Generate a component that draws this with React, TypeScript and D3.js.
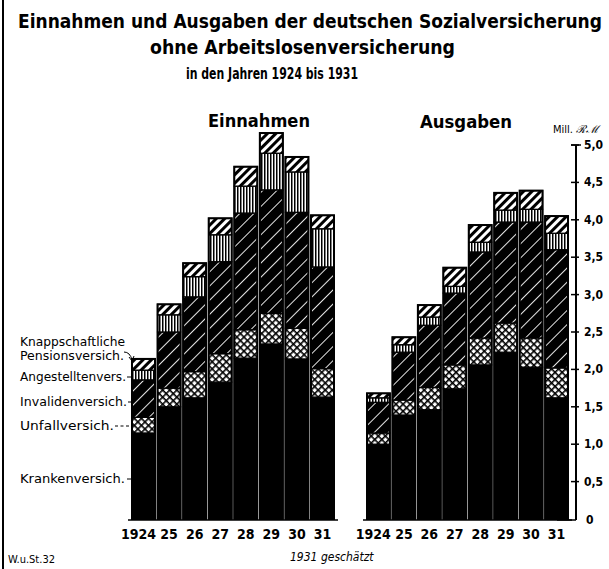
import React from "react";
import * as d3 from "d3";

const years = ["1924", "25", "26", "27", "28", "29", "30", "31"];
const seriesNames = ["Krankenversich.", "Unfallversich.", "Invalidenversich.", "Angestelltenvers.", "Knappschaftliche Pensionsversich."];

// Einnahmen (Mill. RM)
const kranE = [1.15, 1.5, 1.62, 1.83, 2.15, 2.34, 2.14, 1.63];
const unfallE = [0.21, 0.25, 0.35, 0.38, 0.38, 0.41, 0.41, 0.38];
const invalE = [0.5, 0.75, 1.0, 1.23, 1.56, 1.65, 1.55, 1.36];
const angestE = [0.13, 0.23, 0.27, 0.36, 0.36, 0.49, 0.54, 0.51];
const knappE = [0.15, 0.14, 0.18, 0.22, 0.26, 0.27, 0.2, 0.18];

// Ausgaben (Mill. RM)
const kranA = [1.0, 1.39, 1.46, 1.74, 2.06, 2.23, 2.03, 1.62];
const unfallA = [0.15, 0.2, 0.3, 0.32, 0.36, 0.39, 0.39, 0.4];
const invalA = [0.41, 0.64, 0.83, 0.96, 1.15, 1.35, 1.55, 1.58];
const angestA = [0.06, 0.1, 0.11, 0.09, 0.13, 0.16, 0.17, 0.22];
const knappA = [0.06, 0.1, 0.16, 0.25, 0.23, 0.23, 0.25, 0.23];

const yTicks = [0.5, 1.0, 1.5, 2.0, 2.5, 3.0, 3.5, 4.0, 4.5, 5.0];

const FONT = "'DejaVu Sans Condensed', 'Liberation Sans Narrow', 'DejaVu Sans', sans-serif";
const fills = ["#000", "url(#pCross)", "url(#pInval)", "url(#pVert)", "url(#pKnapp)"];

const y = d3.scaleLinear().domain([0, 5]).range([519, 145]);

function Group({ series, x0, x1 }: { series: number[][]; x0: number; x1: number }) {
  const x = d3.scaleBand<string>().domain(years).range([x0, x1]).paddingInner(0.1).paddingOuter(0);
  const table = years.map((yr, i) => {
    const o: any = { year: yr };
    series.forEach((s, k) => (o["s" + k] = s[i]));
    return o;
  });
  const stack = d3.stack<any>().keys(series.map((_, k) => "s" + k))(table);
  return (
    <g>
      {stack.map((layer, k) =>
        layer.map((d, i) => (
          <rect
            key={k + "-" + i}
            x={x(years[i])!}
            width={x.bandwidth()}
            y={y(d[1])}
            height={y(d[0]) - y(d[1])}
            fill={fills[k]}
            stroke="#000"
            strokeWidth={1.3}
          />
        ))
      )}
      {years.map((yr, i) => {
        const top = stack[stack.length - 1][i][1];
        return (
          <rect key={"o" + i} x={x(yr)!} width={x.bandwidth()} y={y(top)} height={y(0) - y(top)} fill="none" stroke="#000" strokeWidth={2} />
        );
      })}
      <line x1={x0 - 4} x2={x1 + 4} y1={y(0) + 1} y2={y(0) + 1} stroke="#000" strokeWidth={1.5} />
      {years.map((yr, i) => (
        <text
          key={"t" + i}
          x={i === 0 ? x(yr)! + x.bandwidth() + 1 : x(yr)! + x.bandwidth() / 2}
          y={539}
          textAnchor={i === 0 ? "end" : "middle"}
          fontFamily={FONT}
          fontWeight="bold"
          fontSize={14}
        >
          {yr}
        </text>
      ))}
    </g>
  );
}

export default function App() {
  const labelStyle = { fontFamily: FONT, fontSize: 13 } as const;
  return (
    <svg width={609} height={569} style={{ display: "block", position: "absolute", left: 0, top: 0, background: "#fff" }}>
      <defs>
        <pattern id="pKnapp" patternUnits="userSpaceOnUse" width={6} height={6} patternTransform="rotate(45)">
          <rect width={6} height={6} fill="#fff" />
          <rect width={3} height={6} fill="#000" />
        </pattern>
        <pattern id="pVert" patternUnits="userSpaceOnUse" width={3} height={3}>
          <rect width={3} height={3} fill="#fff" />
          <rect width={1.5} height={3} fill="#000" />
        </pattern>
        <pattern id="pInval" patternUnits="userSpaceOnUse" width={10} height={10} patternTransform="rotate(45)">
          <rect width={10} height={10} fill="#000" />
          <rect width={0.9} height={10} fill="#fff" />
        </pattern>
        <pattern id="pCross" patternUnits="userSpaceOnUse" width={5} height={5} patternTransform="rotate(45)">
          <rect width={5} height={5} fill="#fff" />
          <rect width={1.6} height={5} fill="#000" />
          <rect width={5} height={1.6} fill="#000" />
        </pattern>
      </defs>

      {/* left border */}
      <line x1={3} x2={3} y1={0} y2={569} stroke="#000" strokeWidth={2} />

      {/* titles */}
      <text x={18} y={28} textLength={584} lengthAdjust="spacingAndGlyphs" fontFamily={FONT} fontWeight="bold" fontSize={19}>
        Einnahmen und Ausgaben der deutschen Sozialversicherung
      </text>
      <text x={150} y={54} textLength={305} lengthAdjust="spacingAndGlyphs" fontFamily={FONT} fontWeight="bold" fontSize={20}>
        ohne Arbeitslosenversicherung
      </text>
      <text x={186} y={79} textLength={172} lengthAdjust="spacingAndGlyphs" fontFamily={FONT} fontWeight="bold" fontSize={15}>
        in den Jahren 1924 bis 1931
      </text>

      <text x={208} y={127} textLength={102} lengthAdjust="spacingAndGlyphs" fontFamily={FONT} fontWeight="bold" fontSize={18}>
        Einnahmen
      </text>
      <text x={420} y={128} textLength={92} lengthAdjust="spacingAndGlyphs" fontFamily={FONT} fontWeight="bold" fontSize={18}>
        Ausgaben
      </text>
      <text x={553} y={133} fontFamily={FONT} fontSize={11}>
        Mill. <tspan fontStyle="italic" fontFamily="'DejaVu Serif', serif">ℛℳ</tspan>
      </text>

      <Group series={[kranE, unfallE, invalE, angestE, knappE]} x0={132} x1={334} />
      <Group series={[kranA, unfallA, invalA, angestA, knappA]} x0={367} x1={568} />

      {/* y axis */}
      <line x1={576} x2={576} y1={y(5)} y2={y(0) + 1} stroke="#000" strokeWidth={2} />
      <line x1={571} x2={581} y1={y(5)} y2={y(5)} stroke="#000" strokeWidth={1.5} />
      <line x1={557} x2={576} y1={y(0) + 1} y2={y(0) + 1} stroke="#000" strokeWidth={1.5} />
      {yTicks.map((t) => (
        <g key={t}>
          <line x1={571} x2={579} y1={y(t)} y2={y(t)} stroke="#000" strokeWidth={1.5} />
          <text x={584} y={y(t) + 4} fontFamily={FONT} fontWeight="bold" fontSize={12}>
            {d3.format(".1f")(t).replace(".", ",")}
          </text>
        </g>
      ))}
      <text x={586} y={y(0) + 5} fontFamily={FONT} fontWeight="bold" fontSize={12}>0</text>

      {/* series labels */}
      <text x={20} y={346} textLength={105} lengthAdjust="spacingAndGlyphs" {...labelStyle}>Knappschaftliche</text>
      <text x={20} y={360} textLength={104} lengthAdjust="spacingAndGlyphs" {...labelStyle}>Pensionsversich.</text>
      <path d="M124,352 Q130,352 132,360" fill="none" stroke="#000" strokeWidth={1} />
      <path d="M129,357 L132,361 L134,356" fill="none" stroke="#000" strokeWidth={1} />
      <text x={20} y={381} textLength={106} lengthAdjust="spacingAndGlyphs" {...labelStyle}>Angestelltenvers.</text>
      <line x1={127} x2={132} y1={377} y2={377} stroke="#000" strokeWidth={1} />
      <text x={20} y={406} textLength={107} lengthAdjust="spacingAndGlyphs" {...labelStyle}>Invalidenversich.</text>
      <line x1={128} x2={132} y1={402} y2={402} stroke="#000" strokeWidth={1} />
      <text x={20} y={430} textLength={94} lengthAdjust="spacingAndGlyphs" {...labelStyle}>Unfallversich.</text>
      <line x1={115} x2={132} y1={426} y2={426} stroke="#000" strokeWidth={1} strokeDasharray="3,2.5" />
      <text x={20} y={483} textLength={105} lengthAdjust="spacingAndGlyphs" {...labelStyle}>Krankenversich.</text>
      <line x1={127} x2={132} y1={479} y2={479} stroke="#000" strokeWidth={1} />

      {/* footer */}
      <text x={8} y={563} fontFamily={FONT} fontSize={11}>W.u.St.32</text>
      <text x={290} y={561} fontFamily={FONT} fontStyle="italic" fontSize={12}>1931 geschätzt</text>
    </svg>
  );
}
